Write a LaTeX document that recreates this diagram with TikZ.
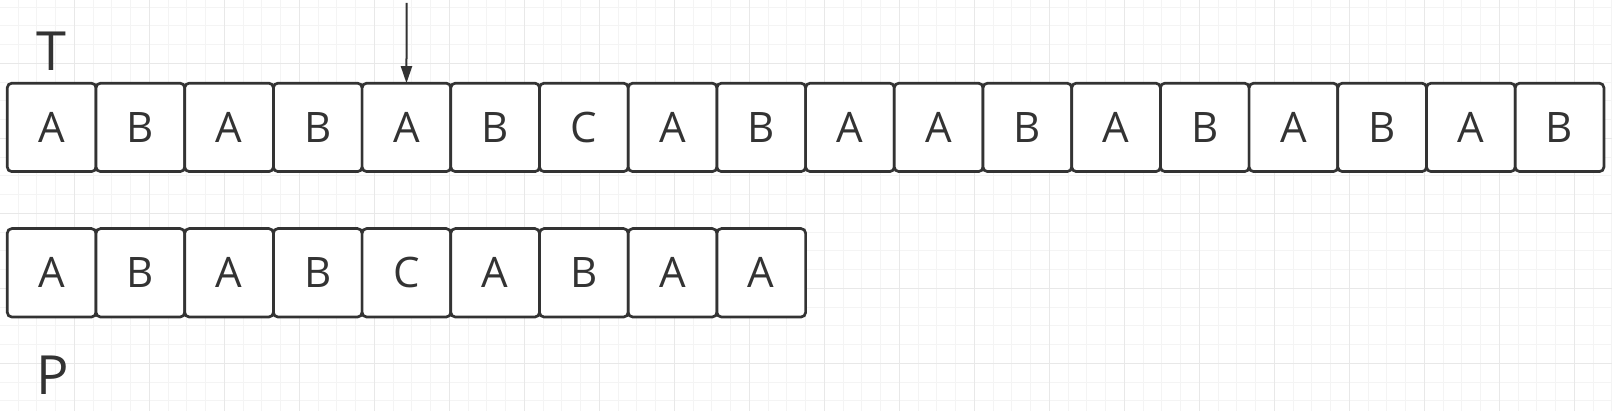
\documentclass[tikz,border=0pt]{standalone}
\usepackage{fontspec}
\setmainfont{Open Sans}
\usetikzlibrary{arrows.meta}
\definecolor{ink}{HTML}{333333}
\definecolor{gridminor}{HTML}{F4F4F4}
\definecolor{gridmajor}{HTML}{E8E8E8}
\tikzset{
  cell/.style={draw=ink, line width=2.7pt, rounded corners=4.5pt, fill=white,
    minimum width=88.7pt, minimum height=88.4pt, outer sep=0pt, inner sep=0pt,
    text=ink, font=\fontsize{42}{42}\selectfont},
  biglabel/.style={text=ink, font=\fontsize{54}{54}\selectfont, inner sep=0pt, anchor=base},
  minorline/.style={draw=gridminor, line width=1pt},
  majorline/.style={draw=gridmajor, line width=1pt},
  pointer/.style={draw=ink, line width=2pt, -{Triangle[length=17pt,width=11pt]}}
}
\begin{document}
\begin{tikzpicture}[x=1pt,y=-1pt]
\useasboundingbox (0,0) rectangle (1612,411);
\fill[white] (0,0) rectangle (1612,411);
% grid
\foreach \i in {0,...,85} {\draw[minorline] ({18.05+18.75*\i},0) -- ({18.05+18.75*\i},411);}
\foreach \i in {0,...,21} {\draw[minorline] (0,{7.05+18.75*\i}) -- (1612,{7.05+18.75*\i});}
\foreach \i in {0,...,21} {\draw[majorline] ({74.3+75*\i},0) -- ({74.3+75*\i},411);}
\foreach \i in {0,...,4} {\draw[majorline] (0,{63.3+75*\i}) -- (1612,{63.3+75*\i});}
% text row T
\foreach \c [count=\n] in {A,B,A,B,A,B,C,A,B,A,A,B,A,B,A,B,A,B} {
  \node[cell] (t\n) at ({7.3+44.35+88.7*(\n-1)},127.4) {\c};
}
% pattern row P
\foreach \c [count=\n] in {A,B,A,B,C,A,B,A,A} {
  \node[cell] (p\n) at ({7.3+44.35+88.7*(\n-1)},272.8) {\c};
}
\node[biglabel] (labelT) at (51.7,71) {T};
\node[biglabel] (labelP) at (53,395) {P};
\coordinate (arrowtop) at (406.6,3);
\draw[pointer] (arrowtop) -- (t5.north);
\end{tikzpicture}
\end{document}
